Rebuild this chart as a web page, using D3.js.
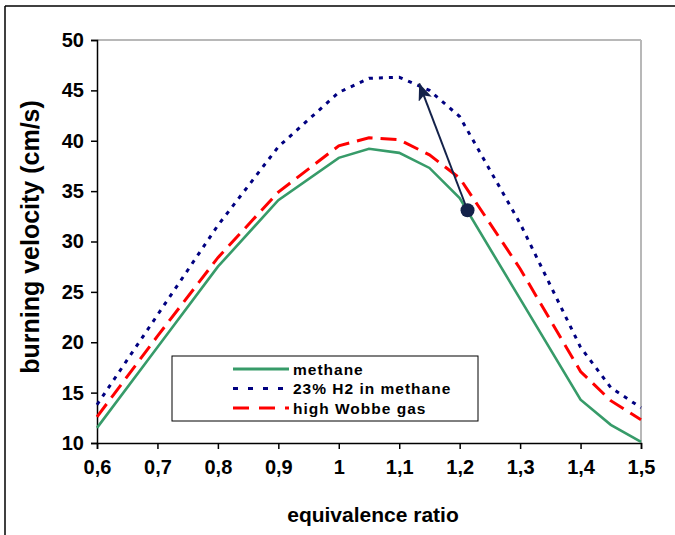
<!DOCTYPE html>
<html>
<head>
<meta charset="utf-8">
<script src="https://cdn.jsdelivr.net/npm/d3@7"></script>
<style>
  html, body { margin: 0; padding: 0; background: #fff; }
  svg { display: block; font-family: "Liberation Sans", Arial, sans-serif; }
</style>
</head>
<body>
<svg id="chart" width="675" height="535"></svg>
<script>
// Equivalence ratio (phi) sample points
const phi = [0.6, 0.7, 0.8, 0.9, 1.0, 1.05, 1.1, 1.15, 1.2, 1.3, 1.4, 1.45, 1.5];

// Laminar burning velocity, cm/s
const methane   = [11.5, 19.5, 27.5, 34.1, 38.3, 39.2, 38.8, 37.3, 34.3, 24.3, 14.3, 11.8, 10.1];
const h2Methane = [13.8, 22.7, 31.6, 39.4, 44.8, 46.2, 46.3, 45.0, 42.4, 31.8, 19.5, 15.5, 13.5];
const highWobbe = [12.6, 20.6, 28.4, 34.9, 39.5, 40.3, 40.1, 38.6, 36.3, 27.3, 17.1, 14.2, 12.3];

const seriesNames = ["methane", "23% H2 in methane", "high Wobbe gas"];

const xTicks = [0.6, 0.7, 0.8, 0.9, 1.0, 1.1, 1.2, 1.3, 1.4, 1.5];
const yTicks = [10, 15, 20, 25, 30, 35, 40, 45, 50];

// Arrow from the methane point to the hydrogen-blend point: [phi, velocity]
const arrowFrom = [1.213, 33.1];
const arrowTo   = [1.133, 45.7];

const svg = d3.select("#chart");
const margin = { left: 97, top: 40, right: 641, bottom: 443 };

const x = d3.scaleLinear().domain([0.6, 1.5]).range([margin.left, margin.right]);
const y = d3.scaleLinear().domain([10, 50]).range([margin.bottom, margin.top]);

// Frame lines along top and left of the page
svg.append("line").attr("x1", 5).attr("x2", 675).attr("y1", 6).attr("y2", 6)
  .attr("stroke", "#000").attr("stroke-width", 1.5);
svg.append("line").attr("x1", 5).attr("x2", 5).attr("y1", 6).attr("y2", 535)
  .attr("stroke", "#000").attr("stroke-width", 1.5);

// Plot area: grey top and right edges
svg.append("line").attr("x1", margin.left).attr("x2", margin.right)
  .attr("y1", margin.top).attr("y2", margin.top)
  .attr("stroke", "#b8b8b8").attr("stroke-width", 2);
svg.append("line").attr("x1", margin.right).attr("x2", margin.right)
  .attr("y1", margin.top).attr("y2", margin.bottom)
  .attr("stroke", "#b8b8b8").attr("stroke-width", 2);

// Axes
const fmt = d => String(+d.toFixed(1)).replace(".", ",");
const xAxis = d3.axisBottom(x).tickValues(xTicks).tickSize(6).tickPadding(11).tickFormat(fmt);
const yAxis = d3.axisLeft(y).tickValues(yTicks).tickSize(6).tickPadding(7).tickFormat(d3.format("d"));

const gx = svg.append("g").attr("transform", `translate(0,${margin.bottom})`).call(xAxis);
const gy = svg.append("g").attr("transform", `translate(${margin.left},0)`).call(yAxis);

[gx, gy].forEach(g => {
  g.select(".domain").attr("stroke", "#000").attr("stroke-width", 1.5);
  g.selectAll(".tick line").attr("stroke", "#000").attr("stroke-width", 1.5);
  g.selectAll(".tick text")
    .attr("fill", "#000")
    .style("font-family", "'Liberation Sans', Arial, sans-serif")
    .style("font-size", "20px")
    .style("font-weight", "bold");
});
gx.selectAll(".tick text").attr("dy", "0.71em");

// Axis titles
svg.append("text")
  .attr("x", 373).attr("y", 522)
  .attr("text-anchor", "middle")
  .style("font-size", "21px").style("font-weight", "bold")
  .text("equivalence ratio");

svg.append("text")
  .attr("transform", "translate(39,237) rotate(-90)")
  .attr("text-anchor", "middle")
  .style("font-size", "25px").style("font-weight", "bold")
  .text("burning velocity (cm/s)");

// Series lines
const series = [
  { name: seriesNames[0], values: methane,   color: "#379b69", width: 2.6, dash: null },
  { name: seriesNames[1], values: h2Methane, color: "#000080", width: 3,   dash: "4,6" },
  { name: seriesNames[2], values: highWobbe, color: "#ff0000", width: 3,   dash: "16,8" }
];

const line = d3.line().x(d => x(d[0])).y(d => y(d[1]));

series.forEach(s => {
  svg.append("path")
    .datum(phi.map((p, i) => [p, s.values[i]]))
    .attr("d", line)
    .attr("fill", "none")
    .attr("stroke", s.color)
    .attr("stroke-width", s.width)
    .attr("stroke-dasharray", s.dash);
});

// Arrow annotation
const arrowColor = "#14224a";
svg.append("defs").append("marker")
  .attr("id", "arrowhead")
  .attr("viewBox", "0 0 17 14")
  .attr("refX", 17).attr("refY", 7)
  .attr("markerWidth", 17).attr("markerHeight", 14)
  .attr("markerUnits", "userSpaceOnUse")
  .attr("orient", "auto")
  .append("path")
  .attr("d", "M0,0 L17,7 L0,14 L4,7 Z")
  .attr("fill", arrowColor);

svg.append("line")
  .attr("x1", x(arrowFrom[0])).attr("y1", y(arrowFrom[1]))
  .attr("x2", x(arrowTo[0])).attr("y2", y(arrowTo[1]))
  .attr("stroke", arrowColor).attr("stroke-width", 2)
  .attr("marker-end", "url(#arrowhead)");

svg.append("circle")
  .attr("cx", x(arrowFrom[0])).attr("cy", y(arrowFrom[1]))
  .attr("r", 7).attr("fill", arrowColor);

// Legend
const legend = svg.append("g").attr("transform", "translate(172,356)");
legend.append("rect")
  .attr("width", 306).attr("height", 65)
  .attr("fill", "#fff").attr("stroke", "#000").attr("stroke-width", 1);

const legendDash = ["", "5,10", "16,10"];
series.forEach((s, i) => {
  const ly = 13 + i * 19.5;
  legend.append("line")
    .attr("x1", 61).attr("x2", 117).attr("y1", ly).attr("y2", ly)
    .attr("stroke", s.color).attr("stroke-width", 3)
    .attr("stroke-dasharray", legendDash[i] || null);
  legend.append("text")
    .attr("x", 121).attr("y", ly).attr("dy", "0.36em")
    .style("font-size", "15.5px").style("font-weight", "bold")
    .style("letter-spacing", "1px")
    .text(s.name);
});
</script>
</body>
</html>
